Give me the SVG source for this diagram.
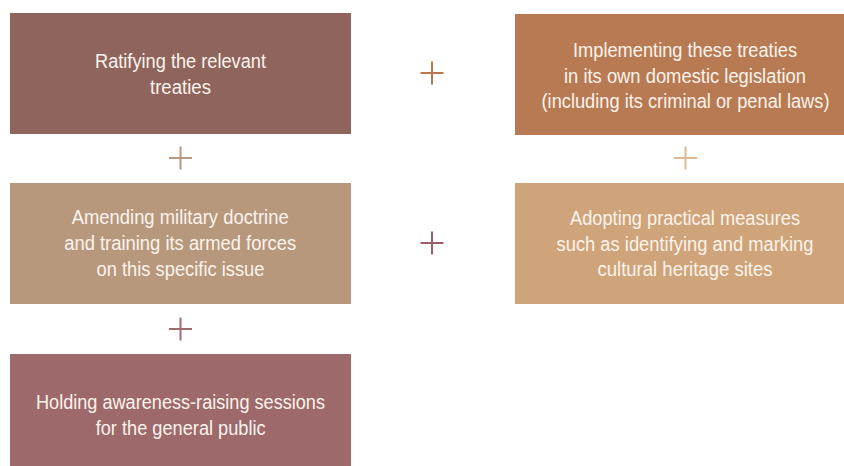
<svg xmlns="http://www.w3.org/2000/svg" width="844" height="466" viewBox="0 0 844 466">
  <style>
    .lbl { font-family: "Liberation Sans", Arial, sans-serif; font-size: 19.5px; fill: #fbf3ec; text-anchor: middle; }
    .plus { stroke-width: 2; fill: none; }
  </style>
  <rect width="844" height="466" fill="#ffffff"/>

  <g id="ratify">
    <rect x="10" y="13" width="341" height="121" fill="#8f645c"/>
    <text class="lbl" x="180.5" y="67.5" textLength="171" lengthAdjust="spacingAndGlyphs">Ratifying the relevant</text>
    <text class="lbl" x="180.5" y="93.5" textLength="61" lengthAdjust="spacingAndGlyphs">treaties</text>
  </g>

  <g id="implement">
    <rect x="515" y="14" width="329" height="121" fill="#b87a52"/>
    <text class="lbl" x="685" y="57" textLength="224" lengthAdjust="spacingAndGlyphs">Implementing these treaties</text>
    <text class="lbl" x="685" y="82.5" textLength="242" lengthAdjust="spacingAndGlyphs">in its own domestic legislation</text>
    <text class="lbl" x="685.5" y="108" textLength="288" lengthAdjust="spacingAndGlyphs">(including its criminal or penal laws)</text>
  </g>

  <g id="doctrine">
    <rect x="10" y="183" width="341" height="121" fill="#b8987c"/>
    <text class="lbl" x="180.2" y="224" textLength="217" lengthAdjust="spacingAndGlyphs">Amending military doctrine</text>
    <text class="lbl" x="180.2" y="250" textLength="232" lengthAdjust="spacingAndGlyphs">and training its armed forces</text>
    <text class="lbl" x="180.5" y="276" textLength="168" lengthAdjust="spacingAndGlyphs">on this specific issue</text>
  </g>

  <g id="measures">
    <rect x="515" y="183" width="329" height="121" fill="#cfa47a"/>
    <text class="lbl" x="685" y="224.5" textLength="230" lengthAdjust="spacingAndGlyphs">Adopting practical measures</text>
    <text class="lbl" x="685" y="250.5" textLength="257" lengthAdjust="spacingAndGlyphs">such as identifying and marking</text>
    <text class="lbl" x="685" y="276" textLength="175" lengthAdjust="spacingAndGlyphs">cultural heritage sites</text>
  </g>

  <g id="awareness">
    <rect x="10" y="354" width="341" height="112" fill="#9e696a"/>
    <text class="lbl" x="180.5" y="408.5" textLength="289" lengthAdjust="spacingAndGlyphs">Holding awareness-raising sessions</text>
    <text class="lbl" x="180.7" y="434.5" textLength="170" lengthAdjust="spacingAndGlyphs">for the general public</text>
  </g>

  <g id="connectors">
    <path class="plus" stroke="#b87850" d="M420.5 73h23M432 61.5v23"/>
    <path class="plus" stroke="#b89a80" d="M169 158h23M180.5 146.5v23"/>
    <path class="plus" stroke="#e0b892" d="M674 158h23M685.5 146.5v23"/>
    <path class="plus" stroke="#9a6068" d="M420.5 243h23M432 231.5v23"/>
    <path class="plus" stroke="#a06c72" d="M169 329h23M180.5 317.5v23"/>
  </g>
</svg>
